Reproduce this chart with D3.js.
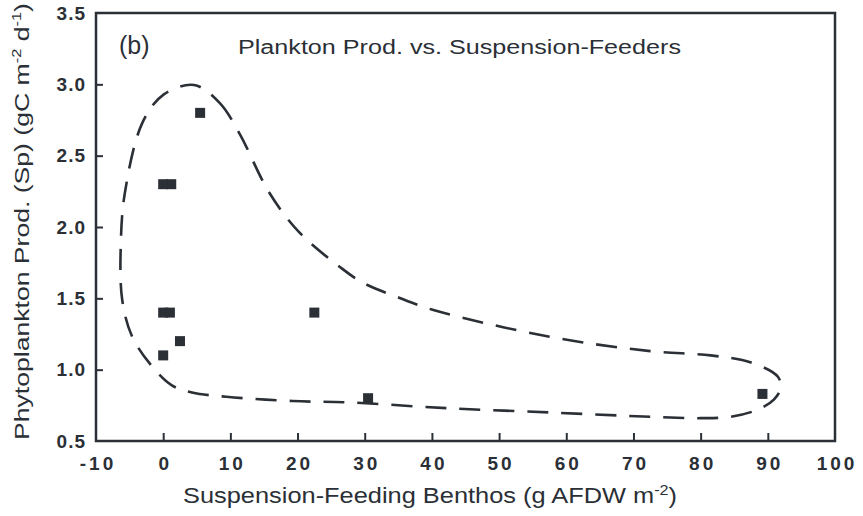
<!DOCTYPE html>
<html><head><meta charset="utf-8">
<script src="https://cdn.jsdelivr.net/npm/d3@7"></script>
<style>body{margin:0;background:#fff}</style>
</head><body>
<svg id="c" width="863" height="516"></svg>
<script>
// data: benthos biomass (g AFDW m-2) vs plankton production
const benthos = [5.5, 0, 1.2, 0, 1.0, 2.5, 0, 22.5, 30.5, 89.2];
const production = [2.8, 2.3, 2.3, 1.4, 1.4, 1.2, 1.1, 1.4, 0.8, 0.83];
const envelopeX = [4.6, 8.4, 11.3, 15.8, 20.3, 26.3, 29.7, 34.8, 40.1, 57.6, 72.5, 81.5, 87.5, 91.5, 91.9, 90.9, 88.5, 84.5, 80.0, 72.5, 57.6, 42.2, 27.8, 19.3, 9.4, 4.3, 1.3, -1.6, -4.6, -6.1, -6.3, -5.7, -3.1, 0.1];
const envelopeY = [2.995, 2.87, 2.66, 2.24, 1.96, 1.72, 1.61, 1.51, 1.42, 1.23, 1.13, 1.10, 1.05, 0.95, 0.87, 0.79, 0.72, 0.67, 0.66, 0.67, 0.70, 0.73, 0.77, 0.78, 0.81, 0.84, 0.89, 1.02, 1.23, 1.49, 1.89, 2.24, 2.73, 2.93];
const xTicks = [-10, 0, 10, 20, 30, 40, 50, 60, 70, 80, 90, 100];
const yTicks = [0.5, 1.0, 1.5, 2.0, 2.5, 3.0, 3.5];

const svg = d3.select("#c");
const ink = "#2b2f36";
const font = "Liberation Sans, Arial, sans-serif";
const x = d3.scaleLinear().domain([-10, 100]).range([96, 835]);
const y = d3.scaleLinear().domain([0.5, 3.5]).range([441, 13]);

// frame
svg.append("rect").attr("x", x(-10)).attr("y", y(3.5))
  .attr("width", x(100) - x(-10)).attr("height", y(0.5) - y(3.5))
  .attr("fill", "none").attr("stroke", ink).attr("stroke-width", 2.5);

// x axis ticks (inward) and labels
const xa = svg.append("g").attr("transform", `translate(0,${y(0.5)})`)
  .call(d3.axisBottom(x).tickValues(xTicks).tickSize(-8).tickPadding(22).tickFormat(d => String(d)));
xa.select(".domain").remove();
xa.selectAll("line").attr("stroke", ink).attr("stroke-width", 2)
  .filter(d => d === -10 || d === 100).remove();
xa.selectAll("text").attr("font-family", font)
  .attr("font-size", 19).attr("font-weight", "bold").attr("fill", ink)
  .attr("letter-spacing", 3).attr("dy", "0.35em").attr("dx", 1.5);

// y axis ticks (inward) and labels
const ya = svg.append("g").attr("transform", `translate(${x(-10)},0)`)
  .call(d3.axisLeft(y).tickValues(yTicks).tickSize(-7).tickPadding(10).tickFormat(d3.format(".1f")));
ya.select(".domain").remove();
ya.selectAll("line").attr("stroke", ink).attr("stroke-width", 2)
  .filter(d => d === 0.5 || d === 3.5).remove();
ya.selectAll("text").attr("font-family", font)
  .attr("font-size", 19).attr("font-weight", "bold").attr("fill", ink)
  .attr("letter-spacing", 1);

// envelope
const env = envelopeX.map((v, i) => [v, envelopeY[i]]);
svg.append("path").datum(env)
  .attr("d", d3.line().x(d => x(d[0])).y(d => y(d[1])).curve(d3.curveCatmullRomClosed.alpha(0.5)))
  .attr("fill", "none").attr("stroke", ink).attr("stroke-width", 2.6)
  .attr("stroke-dasharray", "21 13");

// points
const s = 10;
svg.append("g").selectAll("rect").data(benthos).join("rect")
  .attr("x", (d) => x(d) - s / 2).attr("y", (d, i) => y(production[i]) - s / 2)
  .attr("width", s).attr("height", s).attr("fill", ink);

// texts
svg.append("text").attr("x", 119).attr("y", 54).text("(b)")
  .attr("font-family", font).attr("font-size", 25).attr("fill", ink);
svg.append("text").attr("x", 238).attr("y", 54).text("Plankton Prod. vs. Suspension-Feeders")
  .attr("font-family", font).attr("font-size", 20).attr("fill", ink)
  .attr("textLength", 443).attr("lengthAdjust", "spacingAndGlyphs");

const xl = svg.append("text").attr("x", 183).attr("y", 503)
  .attr("font-family", font).attr("font-size", 22).attr("fill", ink)
  .attr("textLength", 494).attr("lengthAdjust", "spacingAndGlyphs");
xl.append("tspan").text("Suspension-Feeding Benthos (g AFDW m");
xl.append("tspan").text("-2").attr("font-size", 14).attr("dy", -8);
xl.append("tspan").text(")").attr("dy", 8);

const yl = svg.append("text").attr("transform", "translate(29,440) rotate(-90)")
  .attr("font-family", font).attr("font-size", 21).attr("fill", ink)
  .attr("textLength", 437).attr("lengthAdjust", "spacingAndGlyphs");
yl.append("tspan").text("Phytoplankton Prod. (Sp) (gC m");
yl.append("tspan").text("-2").attr("font-size", 13).attr("dy", -8);
yl.append("tspan").text(" d").attr("dy", 8);
yl.append("tspan").text("-1").attr("font-size", 13).attr("dy", -8);
yl.append("tspan").text(")").attr("dy", 8);
</script>
</body></html>
